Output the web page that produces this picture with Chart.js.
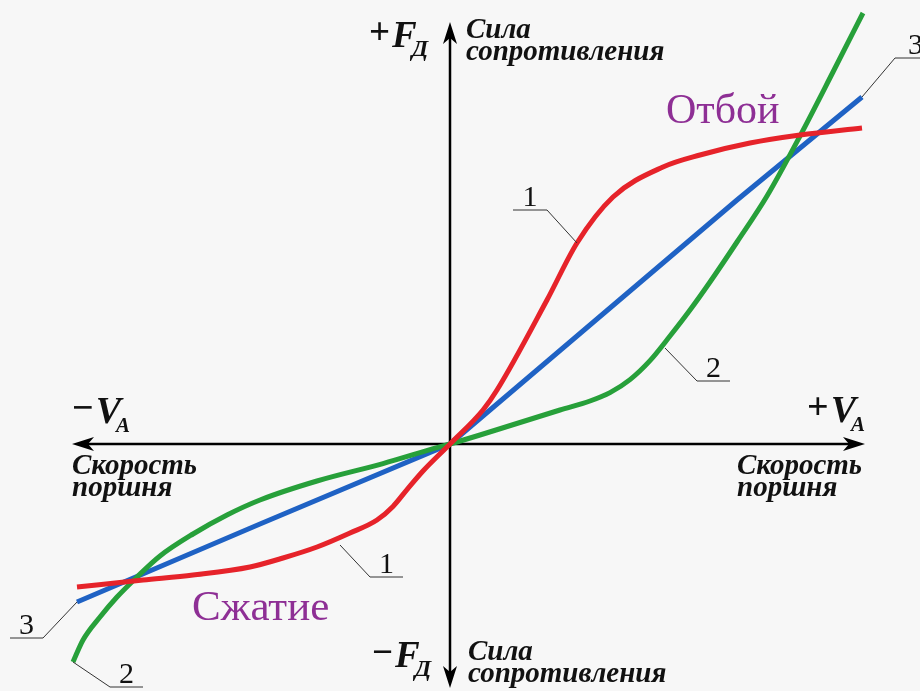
<!DOCTYPE html>
<html><head><meta charset="utf-8">
<script src="https://cdn.jsdelivr.net/npm/chart.js@4"></script>
<style>html,body{margin:0;padding:0;background:#f7f7f7;overflow:hidden}#c{display:block}</style>
</head><body>
<canvas id="c" width="920" height="691"></canvas>
<script>
// Curve 1 (red) – force vs piston speed
const curve1 = [[-93.25,-35.75],[-76.75,-34],[-64.25,-32.75],[-50,-30.75],[-41.75,-28.5],[-33.25,-25.75],[-25,-22.25],[-18.25,-19],[-14.25,-15.6],[-10.75,-11.4],[-6.75,-6.75],[0,0],[8.25,8.5],[11.75,13.5],[24.25,36],[31.75,50.25],[40.75,61.75],[53.25,69.25],[62.5,72.25],[75,75.25],[87.5,77.25],[103,79]];
// Curve 2 (green)
const curve2 = [[-94.25,-54.5],[-91.75,-49],[-87.5,-43.25],[-83.25,-38.25],[-78.25,-33.25],[-72.5,-28],[-64.25,-22.5],[-55.75,-17.75],[-47.5,-14],[-33.25,-9.25],[-16.75,-4.9],[-3.25,-0.9],[0,0],[7.5,2.25],[27.5,8.5],[35,10.75],[40,12.85],[45,16.1],[50,20.85],[55,27],[60,33.5],[65,40.5],[71.75,50.5],[79.25,62],[87.5,77],[95.75,93],[103.25,107.75]];
// Curve 3 (blue) – linear
const curve3 = [[-93.25,-39.5],[-47.5,-20],[0,0],[71.75,61],[103,86.75]];
// Text labels
const axisTop = ['Сила','сопротивления'];
const axisSide = ['Скорость','поршня'];
const regionLabels = ['Отбой','Сжатие'];
const X_RANGE = [-112.5, 117.5], Y_RANGE = [-61.75, 111];
const H_AXIS = [-94.5, 103.75], V_AXIS = [-61, 105.5];

const toPts = a => a.map(p => ({x:p[0], y:p[1]}));
const SERIF = '"Liberation Serif","DejaVu Serif",serif';

function arrow(ctx, x, y, dir) {
  ctx.save(); ctx.translate(x,y); ctx.rotate(dir);
  ctx.beginPath(); ctx.moveTo(0,0); ctx.lineTo(-22,-7); ctx.lineTo(-16,0); ctx.lineTo(-22,7); ctx.closePath();
  ctx.fillStyle='#000'; ctx.fill(); ctx.restore();
}
function sub(ctx, sign, main, s, x, y, big, small) {
  ctx.font = 'bold ' + big + 'px ' + SERIF; ctx.fillText(sign, x, y - 3);
  let w = ctx.measureText(sign).width;
  ctx.font = 'italic bold ' + big + 'px ' + SERIF; ctx.fillText(main, x + w + 2, y);
  let w2 = ctx.measureText(main).width;
  ctx.font = 'italic bold ' + small + 'px ' + SERIF; ctx.fillText(s, x + w + w2 - 3, y + 9);
}

const bgPlugin = {
  id:'bg',
  beforeDatasetsDraw(chart){
    const ctx = chart.ctx, sx = chart.scales.x, sy = chart.scales.y;
    ctx.save();
    const x0 = sx.getPixelForValue(0), y0 = sy.getPixelForValue(0);
    ctx.strokeStyle='#000'; ctx.lineWidth=2.5;
    const xl = sx.getPixelForValue(H_AXIS[0]), xr = sx.getPixelForValue(H_AXIS[1]);
    const yt = sy.getPixelForValue(V_AXIS[1]), yb = sy.getPixelForValue(V_AXIS[0]);
    ctx.beginPath(); ctx.moveTo(xl+10,y0); ctx.lineTo(xr-10,y0); ctx.moveTo(x0,yt+10); ctx.lineTo(x0,yb-10); ctx.stroke();
    arrow(ctx, xl, y0, Math.PI); arrow(ctx, xr, y0, 0); arrow(ctx, x0, yt, -Math.PI/2); arrow(ctx, x0, yb, Math.PI/2);
    ctx.restore();
  },
  afterDatasetsDraw(chart){
    const ctx = chart.ctx, sx = chart.scales.x, sy = chart.scales.y;
    const P = (p) => [sx.getPixelForValue(p[0]), sy.getPixelForValue(p[1])];
    const x0 = sx.getPixelForValue(0);
    ctx.save();
    ctx.fillStyle='#111'; ctx.textAlign='left'; ctx.textBaseline='alphabetic';
    // axis titles
    sub(ctx, '+', 'F', 'Д', x0-81, 47, 37, 24);
    sub(ctx, '−', 'F', 'Д', x0-78, 667, 37, 24);
    sub(ctx, '−', 'V', 'A', 72, 423, 38, 21);
    sub(ctx, '+', 'V', 'A', 807, 422, 38, 21);
    ctx.font = 'italic bold 29px ' + SERIF; ctx.fillStyle='#111';
    ctx.fillText(axisTop[0], x0+16, 38); ctx.fillText(axisTop[1], x0+16, 60);
    ctx.fillText(axisTop[0], x0+18, 660); ctx.fillText(axisTop[1], x0+18, 682);
    ctx.fillText(axisSide[0], 72, 474); ctx.fillText(axisSide[1], 72, 496);
    ctx.fillText(axisSide[0], 737, 474); ctx.fillText(axisSide[1], 737, 496);
    // region labels
    ctx.font = '42px ' + SERIF; ctx.fillStyle='#8e2f95';
    ctx.fillText(regionLabels[0], 666, 123);
    ctx.font = '43px ' + SERIF;
    ctx.fillText(regionLabels[1], 192, 620);
    // leader lines and curve numbers
    const leaders = [
      [curve1[15], -30, -33, -64, '1'],
      [[-27.5,-25.25], 30, 32, 63, '1'],
      [[53.75,24], 32, 33, 65, '2'],
      [curve2[0], 37, 25, 70, '2'],
      [curve3[0], -34, 36, -67, '3'],
      [curve3[curve3.length-1], 33, -39, 70, '3']
    ];
    ctx.strokeStyle='#333'; ctx.lineWidth=1;
    ctx.font = '30px ' + SERIF; ctx.fillStyle='#111'; ctx.textAlign='center';
    leaders.forEach(l => {
      const [ax, ay] = P(l[0]);
      const ex = ax + l[1], ey = ay + l[2], tx = ax + l[3];
      ctx.beginPath(); ctx.moveTo(ax, ay); ctx.lineTo(ex, ey); ctx.lineTo(tx, ey); ctx.stroke();
      ctx.fillText(l[4], (ex+tx)/2 + (l[4]==='3' && l[1]>0 ? 2 : 0), ey-4);
    });
    ctx.restore();
  }
};

new Chart(document.getElementById('c'), {
  type:'scatter',
  data:{ datasets:[
    {data:toPts(curve1), borderColor:'#e6232a', showLine:true, borderWidth:5, pointRadius:0, cubicInterpolationMode:'monotone', fill:false},
    {data:toPts(curve2), borderColor:'#27a03a', showLine:true, borderWidth:5, pointRadius:0, cubicInterpolationMode:'monotone', fill:false},
    {data:toPts(curve3), borderColor:'#1f62c4', showLine:true, borderWidth:5, pointRadius:0, tension:0, fill:false}
  ]},
  options:{
    responsive:false, animation:false, devicePixelRatio:1,
    layout:{padding:0},
    plugins:{legend:{display:false}, tooltip:{enabled:false}},
    scales:{
      x:{type:'linear', min:X_RANGE[0], max:X_RANGE[1], display:false},
      y:{type:'linear', min:Y_RANGE[0], max:Y_RANGE[1], display:false}
    }
  },
  plugins:[bgPlugin]
});
</script>
</body></html>
